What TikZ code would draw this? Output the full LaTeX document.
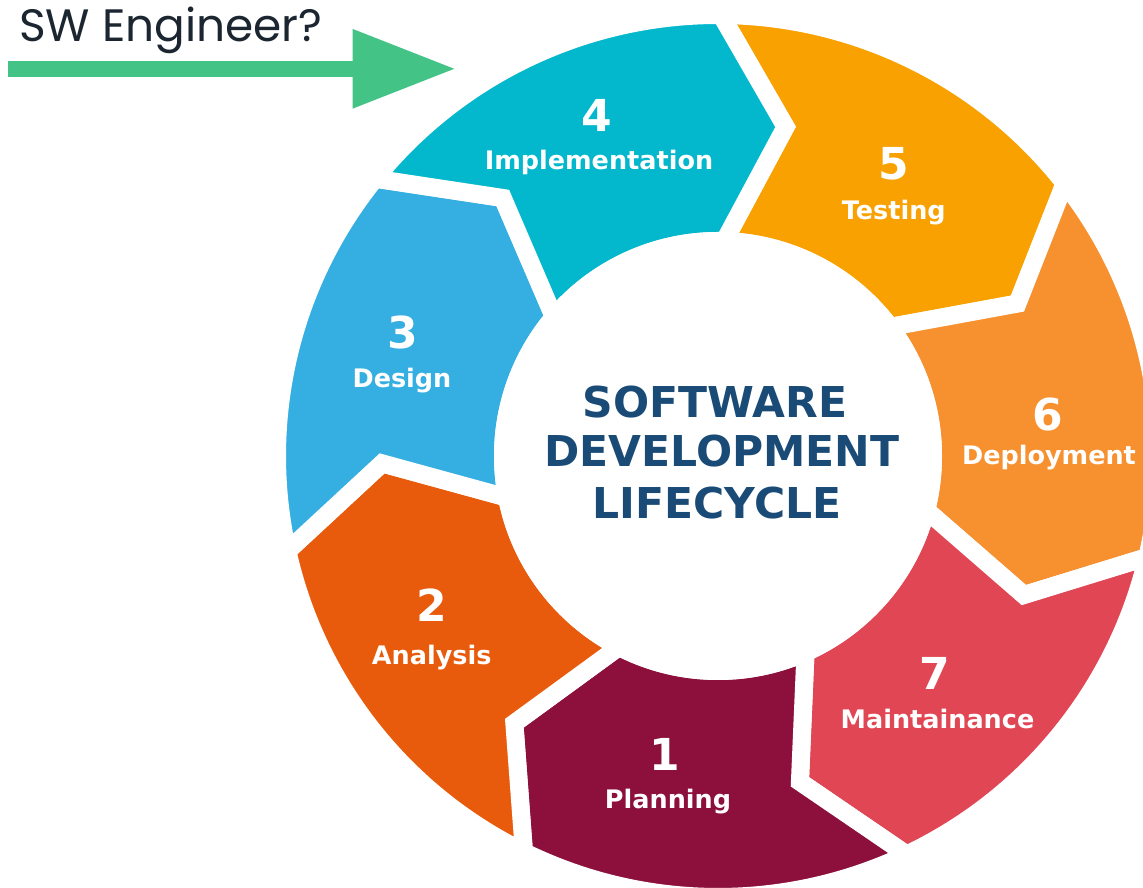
\documentclass[tikz,border=0pt]{standalone}
\usepackage{fontspec}
\usetikzlibrary{arrows.meta}
\newfontfamily\dejavu{DejaVu Sans}
\newfontfamily\poppins{Poppins}
\definecolor{corPlan}{RGB}{140,16,59}
\definecolor{corAnalise}{RGB}{233,91,12}
\definecolor{corDesign}{RGB}{53,174,226}
\definecolor{corImpl}{RGB}{3,183,205}
\definecolor{corTeste}{RGB}{248,161,0}
\definecolor{corDeploy}{RGB}{247,144,47}
\definecolor{corManut}{RGB}{225,70,84}
\definecolor{corTitulo}{RGB}{25,75,118}
\definecolor{corSeta}{RGB}{67,196,134}
\definecolor{corTexto}{RGB}{27,38,49}

\begin{document}
\begin{tikzpicture}[x=1pt, y=1pt,
    etapa/.style={fill=#1, draw=white, line width=18pt},
    numero/.style={anchor=base, text=white, inner sep=0pt, font=\dejavu\bfseries\fontsize{44}{44}\selectfont},
    rotulo/.style={anchor=base, text=white, inner sep=0pt, font=\dejavu\bfseries\fontsize{25.5}{25.5}\selectfont},
    titulo/.style={anchor=base, text=corTitulo, inner sep=0pt, font=\dejavu\bfseries\fontsize{42.5}{42.5}\selectfont},
    seta/.style={draw=corSeta, line width=15.7pt, -{Triangle[length=103pt, width=75pt]}}]
    \path[use as bounding box, fill=white] (0,0) rectangle (1143,888);

    % Etapas do ciclo
    \begin{scope}[shift={(718,432)}]
        \foreach \cor/\a in {corTeste/88.8, corDeploy/37.371, corManut/-14.057, corPlan/-65.486, corAnalise/-116.914, corDesign/-168.343, corImpl/-219.771}{
            \pgfmathsetmacro\b{\a-51.4286}
            \filldraw[etapa=\cor] ({\a+0.8}:441pt) arc[start angle=\a+0.8, end angle=\b+0.8, radius=441pt]
                -- ({\b-10.4}:336pt) -- ({\b-0.5}:215pt) arc[start angle=\b-0.5, end angle=\a-0.5, radius=215pt]
                -- ({\a-10.4}:336pt) -- cycle;
        }
        \fill[white] (0,0) circle[radius=224pt];
    \end{scope}

    % Titulo central
    \node[titulo] (tit1) at (714.9,470) {SOFTWARE};
    \node[titulo] (tit2) at (722,421) {DEVELOPMENT};
    \node[titulo] (tit3) at (717.2,369) {LIFECYCLE};

    % Numeros e nomes das etapas
    \node[numero] (n1) at (665,117.3) {1};
    \node[rotulo] (r1) at (668,79.7) {Planning};
    \node[numero] (n2) at (431.7,266.3) {2};
    \node[rotulo] (r2) at (431.7,223) {Analysis};
    \node[numero] (n3) at (403.3,539.7) {3};
    \node[rotulo] (r3) at (402,500.3) {Design};
    \node[numero] (n4) at (596.7,756.3) {4};
    \node[rotulo] (r4) at (599,718) {Implementation};
    \node[numero] (n5) at (893.3,708) {5};
    \node[rotulo] (r5) at (893.8,668) {Testing};
    \node[numero] (n6) at (1048,457.3) {6};
    \node[rotulo] (r6) at (1049,423) {Deployment};
    \node[numero] (n7) at (935,198) {7};
    \node[rotulo] (r7) at (937.5,159.7) {Maintainance};

    % Seta e pergunta
    \node[anchor=base west, inner sep=0pt, text=corTexto, font=\poppins\fontsize{45.4}{45.4}\selectfont] (pergunta) at (19,846.3) {SW Engineer?};
    \coordinate (setaini) at (8,819.2);
    \coordinate (setafim) at (455.7,819.2);
    \draw[seta] (setaini) -- (setafim);
\end{tikzpicture}
\end{document}
